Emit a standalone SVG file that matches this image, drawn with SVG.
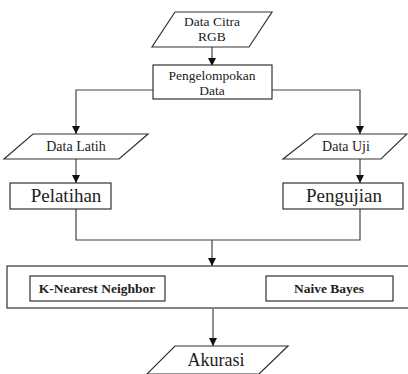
<svg xmlns="http://www.w3.org/2000/svg" width="408" height="374" viewBox="0 0 408 374">
<defs>
<style>
.s{fill:#fff;stroke:#333;stroke-width:1.2}
.c{fill:none;stroke:#444;stroke-width:1.2}
text{font-family:'Liberation Serif','Times New Roman',Times,serif;fill:#222;text-anchor:middle}
.sm{font-size:14px}
.pk{font-size:13.5px}
.lg{font-size:19px}
.ak{font-size:18px}
.b{font-size:13.5px;font-weight:bold}
</style>
<marker id="a" viewBox="0 0 10 10" refX="10" refY="5" markerWidth="8" markerHeight="8" markerUnits="userSpaceOnUse" orient="auto"><path d="M0,0 L10,5 L0,10 z" fill="#111"/></marker>
</defs>
<rect width="408" height="374" fill="#fff"/>
<g id="connectors">
<path class="c" d="M212,47 V66" marker-end="url(#a)"/>
<path class="c" d="M153,90 H76 V134" marker-end="url(#a)"/>
<path class="c" d="M272,90 H360 V134" marker-end="url(#a)"/>
<path class="c" d="M76,159 V183" marker-end="url(#a)"/>
<path class="c" d="M360,159 V183" marker-end="url(#a)"/>
<path class="c" d="M76,209 V240 H360 V209"/>
<path class="c" d="M212,240 V266" marker-end="url(#a)"/>
<path class="c" d="M213,309 V346" marker-end="url(#a)"/>
</g>
<g id="data-citra">
<polygon class="s" points="175,12 272,12 249,47 152,47"/>
<text class="pk" x="212" y="26">Data Citra</text>
<text class="pk" x="212" y="41">RGB</text>
</g>
<g id="pengelompokan">
<rect class="s" x="153" y="65" width="119" height="34"/>
<text class="pk" x="212" y="80">Pengelompokan</text>
<text class="pk" x="212" y="95">Data</text>
</g>
<g id="data-latih">
<polygon class="s" points="33,134 148,134 119,159 4,159"/>
<text class="sm" x="76" y="151">Data Latih</text>
</g>
<g id="data-uji">
<polygon class="s" points="315,134 407,134 381,159 283,159"/>
<text class="sm" x="346" y="151">Data Uji</text>
</g>
<g id="pelatihan">
<rect class="s" x="10" y="183" width="101" height="26"/>
<text class="lg" x="66" y="202">Pelatihan</text>
</g>
<g id="pengujian">
<rect class="s" x="283" y="183" width="120" height="26"/>
<text class="lg" x="344" y="202">Pengujian</text>
</g>
<g id="metode">
<rect class="s" x="7" y="266" width="404" height="42"/>
</g>
<g id="knn">
<rect class="s" x="30" y="276" width="135" height="25"/>
<text class="b" x="97" y="293">K-Nearest Neighbor</text>
</g>
<g id="naive-bayes">
<rect class="s" x="266" y="276" width="127" height="25"/>
<text class="b" x="329" y="293">Naive Bayes</text>
</g>
<g id="akurasi">
<polygon class="s" points="175,346 288,346 259,374 147,374"/>
<text class="ak" x="216" y="366">Akurasi</text>
</g>
</svg>
